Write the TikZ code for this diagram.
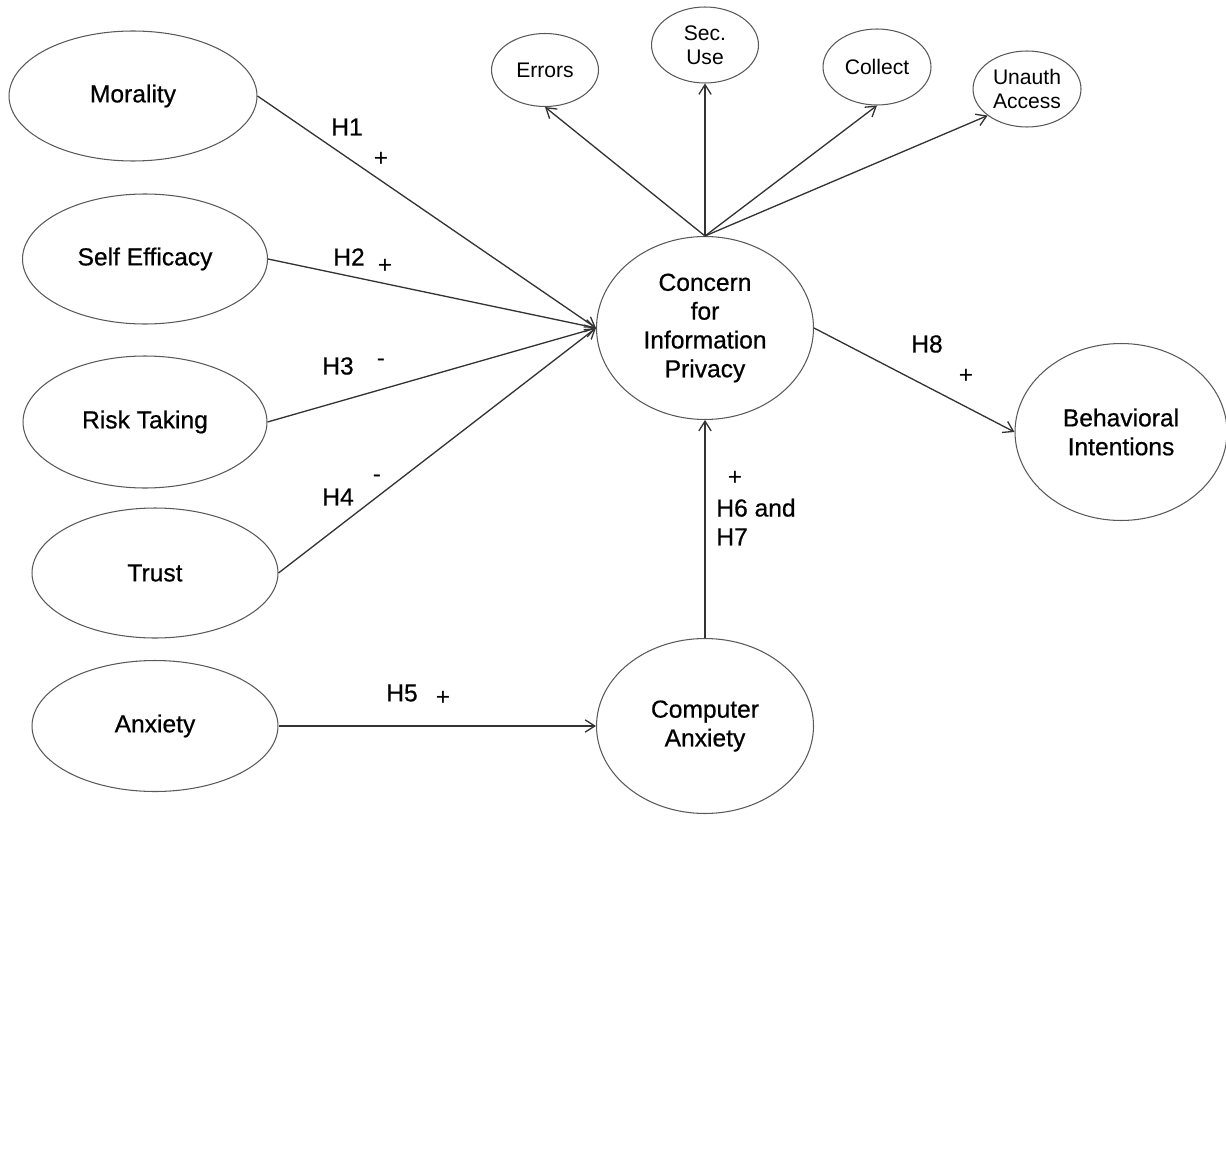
\documentclass[tikz,border=0pt]{standalone}
\usepackage{fontspec}
\setmainfont{Liberation Sans}
\newfontfamily\heavyfont[FakeBold=0.6]{Liberation Sans}
\usetikzlibrary{shapes.geometric,arrows.meta}

\begin{document}
\begin{tikzpicture}[x=0.02cm, y=-0.02cm,
    construct/.style={ellipse, draw=black!65, line width=0.6pt, inner sep=0pt,
        align=center, font=\heavyfont\fontsize{14pt}{16.4pt}\selectfont},
    facet/.style={construct, font=\fontsize{12pt}{13.6pt}\selectfont},
    link/.style={draw=black!80, line width=0.75pt,
        -{Straight Barb[length=5.5pt,width=7pt]}},
    hyp/.style={inner sep=0pt, font=\heavyfont\fontsize{14pt}{16.4pt}\selectfont},
    sign/.style={inner sep=0pt, font=\fontsize{14pt}{16.4pt}\selectfont}]

    \useasboundingbox (0,0) rectangle (1226,1169);

    %Constructs
    \node[construct, minimum width=4.96cm, minimum height=2.6cm] (Morality) at (133,96) {Morality};
    \node[construct, minimum width=4.9cm, minimum height=2.6cm] (SelfEfficacy) at (145,259) {Self Efficacy};
    \node[construct, minimum width=4.88cm, minimum height=2.64cm] (RiskTaking) at (145,422) {Risk Taking};
    \node[construct, minimum width=4.92cm, minimum height=2.6cm] (Trust) at (155,573) {Trust};
    \node[construct, minimum width=4.92cm, minimum height=2.62cm] (Anxiety) at (155,726) {Anxiety};

    \node[construct, minimum width=4.34cm, minimum height=3.66cm] (CFIP) at (705,328)
        {Concern\\for\\Information\\Privacy};
    \node[construct, minimum width=4.34cm, minimum height=3.5cm] (CompAnxiety) at (705,726)
        {Computer\\Anxiety};
    \node[construct, minimum width=4.24cm, minimum height=3.54cm] (BehavIntent) at (1121,432)
        {Behavioral\\Intentions};

    %Facets
    \node[facet, minimum width=2.14cm, minimum height=1.46cm] (Errors) at (545,70) {Errors};
    \node[facet, minimum width=2.14cm, minimum height=1.52cm] (SecUse) at (705,45) {Sec.\\Use};
    \node[facet, minimum width=2.16cm, minimum height=1.52cm] (Collect) at (877,67) {Collect};
    \node[facet, minimum width=2.16cm, minimum height=1.52cm] (UnauthAccess) at (1027,89) {Unauth\\Access};

    %Lines
    \draw[link] (Morality.east) -- (CFIP.west);
    \draw[link] (SelfEfficacy.east) -- (CFIP.west);
    \draw[link] (RiskTaking.east) -- (CFIP.west);
    \draw[link] (Trust.east) -- (CFIP.west);
    \draw[link] (Anxiety.east) -- (CompAnxiety.west);
    \draw[link] (CompAnxiety.north) -- (CFIP.south);
    \draw[link] (CFIP.east) -- (BehavIntent.west);

    \draw[link] (CFIP.north) -- (Errors.south);
    \draw[link] (CFIP.north) -- (SecUse.south);
    \draw[link] (CFIP.north) -- (Collect.south);
    \draw[link] (CFIP.north) -- (UnauthAccess.214);

    %Hypotheses
    \node[hyp] (H1Label) at (347,127) {H1};
    \node[sign] (H1Sign) at (381,159) {+};
    \node[hyp] (H2Label) at (349,257) {H2};
    \node[sign] (H2Sign) at (385,266) {+};
    \node[hyp] (H3Label) at (338,366) {H3};
    \node[sign] (H3Sign) at (381,363) {-};
    \node[hyp] (H4Label) at (338,497) {H4};
    \node[sign] (H4Sign) at (377,479) {-};
    \node[hyp] (H5Label) at (402,693) {H5};
    \node[sign] (H5Sign) at (443,698) {+};
    \node[sign] (H67Sign) at (735,478) {+};
    \node[hyp, anchor=west, align=left] (H67Label) at (716,522) {H6 and\\H7};
    \node[hyp] (H8Label) at (927,344) {H8};
    \node[sign] (H8Sign) at (966,376) {+};
\end{tikzpicture}
\end{document}
